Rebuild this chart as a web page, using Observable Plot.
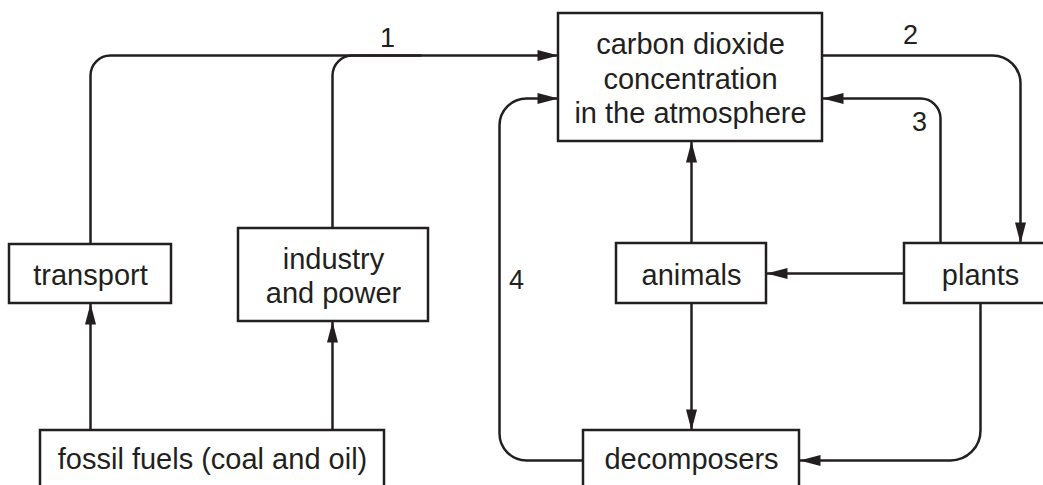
<!DOCTYPE html>
<html>
<head>
<meta charset="utf-8">
<script src="https://cdn.jsdelivr.net/npm/d3@7"></script>
<script src="https://cdn.jsdelivr.net/npm/@observablehq/plot@0.6"></script>
<style>
  html, body { margin: 0; padding: 0; background: #ffffff; }
  svg { display: block; }
</style>
</head>
<body>
<div id="chart"></div>
<script>
// ---- Diagram data ----
// Boxes (nodes)
const boxLabels = [
  "carbon dioxide\nconcentration\nin the atmosphere",
  "transport",
  "industry\nand power",
  "fossil fuels (coal and oil)",
  "animals",
  "plants",
  "decomposers"
];
const boxX1 = [558, 9, 238, 40, 616, 904, 583];
const boxX2 = [822, 171, 428, 384, 766, 1056, 799];
const boxY1 = [13, 244, 228, 430, 243, 243, 430];
const boxY2 = [141, 303, 321, 500, 303, 303, 500];

// Flow connectors (waypoints, corner radius, arrowhead at end)
const flowIds = ["1a", "1b", "2", "3", "4", "animals-up", "plants-animals", "animals-decomposers", "plants-decomposers", "fossil-transport", "fossil-industry"];
const flowPoints = [
  [[90, 244], [90, 55], [558, 55]],
  [[332, 228], [332, 55], [420, 55]],
  [[822, 55], [1020, 55], [1020, 243]],
  [[940, 243], [940, 98], [822, 98]],
  [[583, 460], [499, 460], [499, 98], [558, 98]],
  [[691, 243], [691, 141]],
  [[904, 273], [766, 273]],
  [[691, 303], [691, 430]],
  [[980, 303], [980, 460], [799, 460]],
  [[90, 430], [90, 303]],
  [[332, 430], [332, 321]]
];
const flowRadius = [20, 20, 28, 20, 27, 0, 0, 0, 30, 0, 0];
const flowArrow = [true, false, true, true, true, true, true, true, true, true, true];

// Numbered flow labels
const numberLabels = ["1", "2", "3", "4"];
const numberX = [387, 910, 919, 516];
const numberY = [38, 35, 122, 280];

// ---- Derived tables ----
const W = 1043, H = 485;
const ink = "#231f20";

const boxes = boxLabels.map((label, i) => ({
  label, x1: boxX1[i], x2: boxX2[i], y1: boxY1[i], y2: boxY2[i],
  cx: (boxX1[i] + boxX2[i]) / 2,
  cy: (boxY1[i] + Math.min(boxY2[i], H)) / 2
}));

const flowRows = [];
flowIds.forEach((id, i) => {
  flowPoints[i].forEach(([x, y]) => flowRows.push({id, x, y, r: flowRadius[i]}));
});

const heads = flowIds.map((id, i) => {
  const pts = flowPoints[i];
  const [x, y] = pts[pts.length - 1];
  const [px, py] = pts[pts.length - 2];
  const angle = Math.atan2(x - px, -(y - py)) * 180 / Math.PI;
  return {id, x, y, angle, show: flowArrow[i]};
}).filter(d => d.show);

const numbers = numberLabels.map((t, i) => ({t, x: numberX[i], y: numberY[i]}));

// Curve with rounded corners (fixed pixel radius)
function roundedCorners(radius) {
  return function(context) {
    let pts = [];
    return {
      areaStart() {}, areaEnd() {},
      lineStart() { pts = []; },
      point(x, y) { pts.push([+x, +y]); },
      lineEnd() {
        if (!pts.length) return;
        context.moveTo(pts[0][0], pts[0][1]);
        for (let k = 1; k < pts.length - 1; ++k) {
          if (radius > 0) context.arcTo(pts[k][0], pts[k][1], pts[k + 1][0], pts[k + 1][1], radius);
          else context.lineTo(pts[k][0], pts[k][1]);
        }
        const last = pts[pts.length - 1];
        context.lineTo(last[0], last[1]);
      }
    };
  };
}

// Arrowhead symbol: tip at origin, pointing up
const arrowHead = {
  draw(context) {
    context.moveTo(0, 0);
    context.lineTo(5.5, 21);
    context.lineTo(-5.5, 21);
    context.closePath();
  }
};

const radii = Array.from(new Set(flowRadius));
const lineMarks = radii.map(r =>
  Plot.line(flowRows.filter(d => d.r === r), {
    x: "x", y: "y", z: "id",
    stroke: ink, strokeWidth: 2.5, strokeLinejoin: "round",
    curve: roundedCorners(r)
  })
);

const chart = Plot.plot({
  width: W,
  height: H,
  margin: 0,
  x: {domain: [0, W], range: [0, W], axis: null},
  y: {domain: [0, H], range: [0, H], axis: null},
  style: {background: "#ffffff", fontFamily: "'Liberation Sans', Arial, Helvetica, sans-serif"},
  marks: [
    ...lineMarks,
    Plot.rect(boxes, {
      x1: "x1", x2: "x2", y1: "y1", y2: "y2",
      fill: "#ffffff", stroke: ink, strokeWidth: 2.5
    }),
    Plot.dot(heads, {
      x: "x", y: "y", rotate: "angle",
      symbol: arrowHead, fill: ink, stroke: "none"
    }),
    Plot.text(boxes, {
      x: "cx", y: "cy", text: "label",
      fontSize: 29, lineHeight: 1.19, lineAnchor: "middle",
      textAnchor: "middle", fill: ink
    }),
    Plot.text(numbers, {
      x: "x", y: "y", text: "t",
      fontSize: 27, lineAnchor: "middle", textAnchor: "middle", fill: ink
    })
  ]
});

document.getElementById("chart").appendChild(chart);
</script>
</body>
</html>
